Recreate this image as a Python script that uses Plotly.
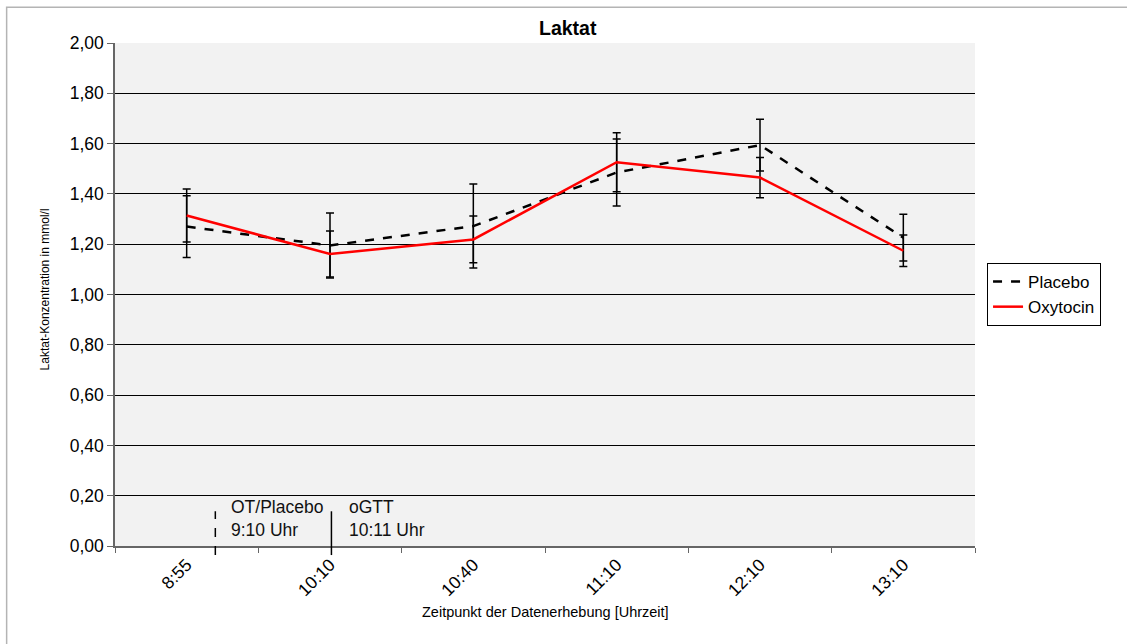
import plotly.graph_objects as go

# Messzeitpunkte
zeitpunkte = ["8:55", "10:10", "10:40", "11:10", "12:10", "13:10"]

# Laktat-Mittelwerte und Fehlerbalken (mmol/l)
placebo_mw = [1.27, 1.195, 1.272, 1.485, 1.594, 1.226]
placebo_fehler = [0.123, 0.129, 0.167, 0.133, 0.103, 0.093]
oxytocin_mw = [1.314, 1.161, 1.219, 1.526, 1.465, 1.174]
oxytocin_fehler = [0.105, 0.091, 0.093, 0.117, 0.080, 0.063]

# Interventionen (Position auf der Zeitachse, Beschriftung)
ereignis_pos = [0.2, 1.01]
ereignis_text = ["OT/Placebo<br>9:10 Uhr", "oGTT<br>10:11 Uhr"]
ereignis_text_pos = [0.297, 1.117]
ereignis_dash = ["dash", "solid"]

y_ticks = [0, 0.2, 0.4, 0.6, 0.8, 1.0, 1.2, 1.4, 1.6, 1.8, 2.0]

FONT = "Arial, Liberation Sans, sans-serif"
x_idx = list(range(len(zeitpunkte)))

fig = go.Figure()
fig.add_trace(go.Scatter(
    x=x_idx, y=placebo_mw, name="Placebo", mode="lines",
    line=dict(color="black", width=2.5, dash="dash"),
    error_y=dict(type="data", array=placebo_fehler, visible=True,
                 color="black", thickness=1.5, width=4),
))
fig.add_trace(go.Scatter(
    x=x_idx, y=oxytocin_mw, name="Oxytocin", mode="lines",
    line=dict(color="#ff0000", width=2.5),
    error_y=dict(type="data", array=oxytocin_fehler, visible=True,
                 color="black", thickness=1.5, width=4),
))

# Senkrechte Markierungen der Interventionen
for xp, d in zip(ereignis_pos, ereignis_dash):
    fig.add_shape(type="line", xref="x", yref="paper",
                  x0=xp, x1=xp, y0=-0.018, y1=0.069,
                  line=dict(color="black", width=1.5, dash=d))
for xp, t in zip(ereignis_text_pos, ereignis_text):
    fig.add_annotation(x=xp, y=0.054, xref="x", yref="paper", text=t,
                       showarrow=False, xanchor="left", yanchor="middle",
                       align="left", font=dict(size=17.5, color="#111111", family=FONT))

# Äußerer Diagrammrahmen
fig.add_shape(type="rect", xref="paper", yref="paper",
              x0=-0.126, x1=1.2, y0=-0.2, y1=1.071,
              line=dict(color="#b4b4b4", width=1.5), layer="below")

# Achsentitel
fig.add_annotation(x=-0.0814, y=0.51, xref="paper", yref="paper",
                   xanchor="center", yanchor="middle",
                   text="Laktat-Konzentration in mmol/l", textangle=-90,
                   showarrow=False, font=dict(size=12, color="black", family=FONT))
fig.add_annotation(x=0.5, y=-0.131, xref="paper", yref="paper",
                   xanchor="center", yanchor="middle",
                   text="Zeitpunkt der Datenerhebung [Uhrzeit]",
                   showarrow=False, font=dict(size=14.5, color="black", family=FONT))
fig.add_annotation(x=0.527, y=1.03, xref="paper", yref="paper",
                   xanchor="center", yanchor="middle",
                   text="<b>Laktat</b>", showarrow=False,
                   font=dict(size=19.5, color="black", family=FONT))

fig.update_layout(
    width=1127, height=644,
    margin=dict(l=115, r=152, t=43, b=98),
    paper_bgcolor="white", plot_bgcolor="#f2f2f2",
    separators=",.",
    font=dict(family=FONT, size=17.5, color="black"),
    showlegend=True,
    legend=dict(x=1.014, y=0.5626, xanchor="left", yanchor="top",
                bgcolor="white", bordercolor="black", borderwidth=1,
                font=dict(size=17, family=FONT), tracegroupgap=0),
)
fig.update_xaxes(
    range=[-0.5, 5.5], tickmode="array", tickvals=x_idx, ticktext=zeitpunkte,
    tickangle=-45, ticks="", showgrid=False, zeroline=False,
    showline=True, linecolor="#666666", linewidth=1.5,
    tickfont=dict(size=17.5, color="black"),
    minor=dict(ticks="outside", tick0=-0.5, dtick=1, ticklen=5,
               tickcolor="#666666", showgrid=False),
)
fig.update_yaxes(
    range=[0, 2.0], tickmode="array", tickvals=y_ticks, tickformat=".2f",
    ticks="outside", ticklen=6, tickcolor="#666666",
    showgrid=True, gridcolor="black", gridwidth=1, zeroline=False,
    showline=True, linecolor="#666666", linewidth=1.5,
    tickfont=dict(size=17.5, color="black"),
)

fig.write_html("out.html")
